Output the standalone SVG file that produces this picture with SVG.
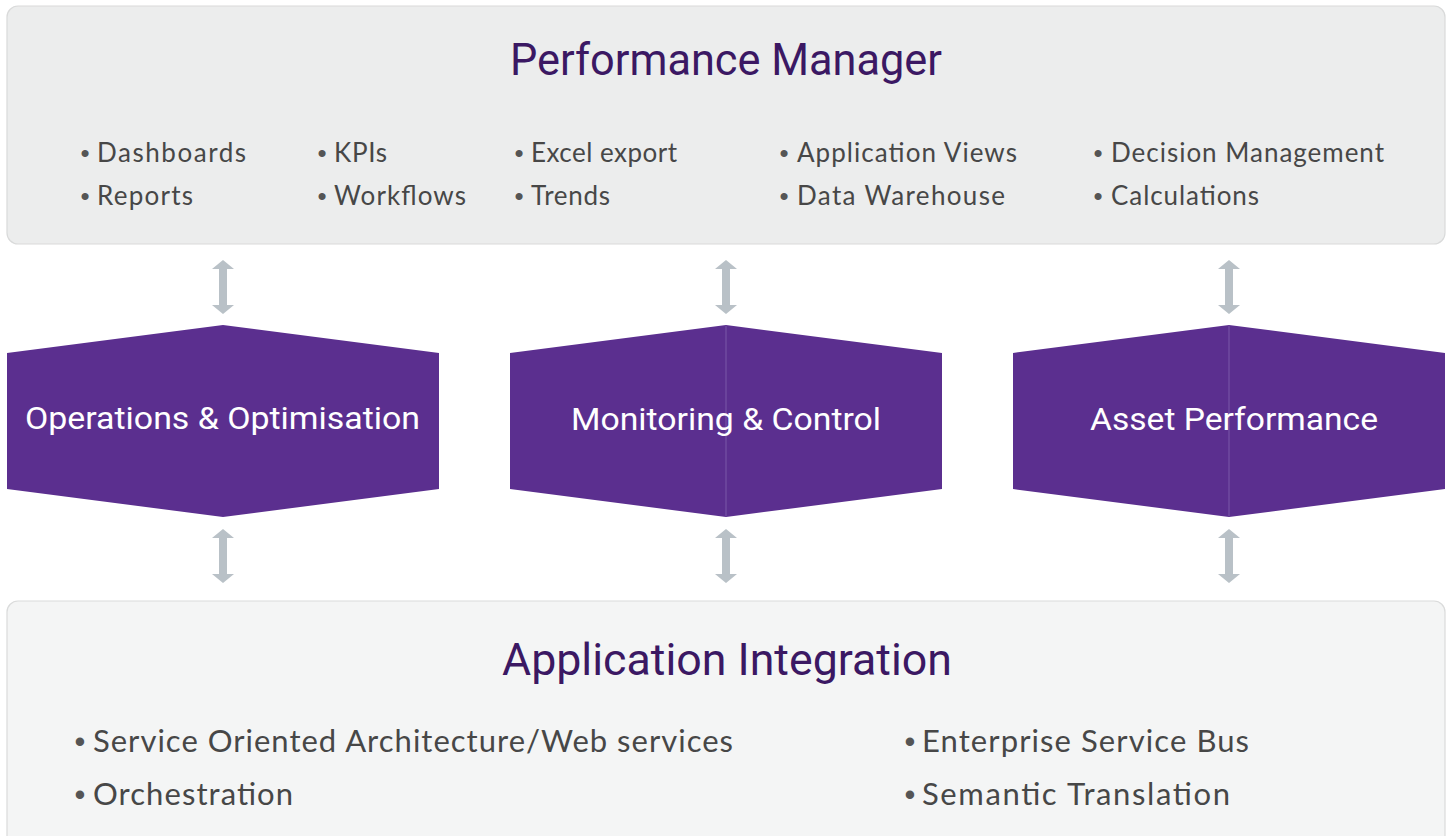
<svg xmlns="http://www.w3.org/2000/svg" xmlns:xlink="http://www.w3.org/1999/xlink" width="1452" height="836" viewBox="0 0 1452 836">
  <style>
    .panel-top { fill: #ECEDED; stroke: #D9DADA; stroke-width: 1.2; }
    .panel-bottom { fill: #F4F5F5; stroke: #DADBDB; stroke-width: 1.2; }
    .title { font-family: Roboto, "Liberation Sans", sans-serif; font-weight: 400; font-size: 44px; fill: #3B1863; text-anchor: middle; }
    .item { font-family: Lato, "Open Sans", "Liberation Sans", sans-serif; font-size: 26px; fill: #474747; }
    .item-lg { font-family: Lato, "Open Sans", "Liberation Sans", sans-serif; font-size: 31px; fill: #474747; }
    .dot { font-family: "Liberation Sans", sans-serif; fill: #555555; text-anchor: middle; }
    .hex { fill: #5B2F8F; }
    .seam { stroke: #7B58A8; stroke-width: 1; }
    .hex-label { font-family: Roboto, "Liberation Sans", sans-serif; font-size: 32px; fill: #FFFFFF; }
    .link { fill: #B9C1C7; }
  </style>
  <defs>
    <!-- double-headed vertical arrow, 54 tall, centred on x=0 -->
    <path id="dbl-arrow" d="M0,0 L11,9 L4,9 L4,45 L11,45 L0,54 L-11,45 L-4,45 L-4,9 L-11,9 Z"/>
  </defs>

  <!-- Performance Manager panel -->
  <g id="performance-manager">
    <rect class="panel-top" x="7" y="6" width="1438" height="238" rx="11"/>
    <text class="title" x="726" y="75" textLength="432" lengthAdjust="spacingAndGlyphs">Performance Manager</text>
    <text class="item dot" x="85" y="162">•</text>
    <text class="item" x="97" y="162" textLength="149">Dashboards</text>
    <text class="item dot" x="85" y="205">•</text>
    <text class="item" x="97" y="205" textLength="96">Reports</text>
    <text class="item dot" x="322" y="162">•</text>
    <text class="item" x="334" y="162" textLength="53">KPIs</text>
    <text class="item dot" x="322" y="205">•</text>
    <text class="item" x="334" y="205" textLength="132">Workflows</text>
    <text class="item dot" x="519" y="162">•</text>
    <text class="item" x="531" y="162" textLength="146">Excel export</text>
    <text class="item dot" x="519" y="205">•</text>
    <text class="item" x="531" y="205" textLength="79">Trends</text>
    <text class="item dot" x="784" y="162">•</text>
    <text class="item" x="797" y="162" textLength="220">Application Views</text>
    <text class="item dot" x="784" y="205">•</text>
    <text class="item" x="797" y="205" textLength="208">Data Warehouse</text>
    <text class="item dot" x="1098" y="162">•</text>
    <text class="item" x="1111" y="162" textLength="273">Decision Management</text>
    <text class="item dot" x="1098" y="205">•</text>
    <text class="item" x="1111" y="205" textLength="148">Calculations</text>
  </g>

  <!-- Middle tier -->
  <g id="operations-optimisation">
    <polygon class="hex" points="7,353 223,325 439,353 439,489 223,517 7,489"/>
    <text class="hex-label" x="25" y="429" textLength="395" lengthAdjust="spacingAndGlyphs">Operations &amp; Optimisation</text>
  </g>
  <g id="monitoring-control">
    <polygon class="hex" points="510,353 726,325 942,353 942,489 726,517 510,489"/>
    <line class="seam" x1="726" y1="326" x2="726" y2="516"/>
    <text class="hex-label" x="571" y="430" textLength="310" lengthAdjust="spacingAndGlyphs">Monitoring &amp; Control</text>
  </g>
  <g id="asset-performance">
    <polygon class="hex" points="1013,353 1229,325 1445,353 1445,489 1229,517 1013,489"/>
    <line class="seam" x1="1229" y1="326" x2="1229" y2="516"/>
    <text class="hex-label" x="1090" y="430" textLength="288" lengthAdjust="spacingAndGlyphs">Asset Performance</text>
  </g>

  <!-- Application Integration panel -->
  <g id="application-integration">
    <rect class="panel-bottom" x="7" y="601" width="1438" height="260" rx="11"/>
    <text class="title" x="727" y="675" textLength="450" lengthAdjust="spacingAndGlyphs">Application Integration</text>
    <text class="item-lg dot" x="80" y="752">•</text>
    <text class="item-lg" x="93" y="752" textLength="640">Service Oriented Architecture/Web services</text>
    <text class="item-lg dot" x="80" y="805">•</text>
    <text class="item-lg" x="93" y="805" textLength="200">Orchestration</text>
    <text class="item-lg dot" x="910" y="752">•</text>
    <text class="item-lg" x="922" y="752" textLength="327">Enterprise Service Bus</text>
    <text class="item-lg dot" x="910" y="805">•</text>
    <text class="item-lg" x="922" y="805" textLength="308">Semantic Translation</text>
  </g>

  <!-- Connectors -->
  <g id="connectors" class="link">
    <use xlink:href="#dbl-arrow" x="223" y="260"/>
    <use xlink:href="#dbl-arrow" x="726" y="260"/>
    <use xlink:href="#dbl-arrow" x="1229" y="260"/>
    <use xlink:href="#dbl-arrow" x="223" y="529"/>
    <use xlink:href="#dbl-arrow" x="726" y="529"/>
    <use xlink:href="#dbl-arrow" x="1229" y="529"/>
  </g>
</svg>
